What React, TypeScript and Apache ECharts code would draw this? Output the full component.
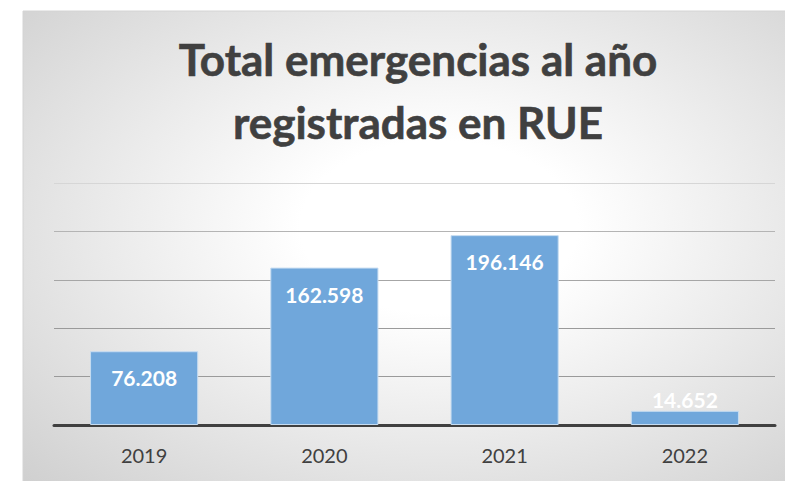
import React, { useEffect, useRef } from "react";
import * as echarts from "echarts";

const categories = ["2019", "2020", "2021", "2022"];
const values = [76208, 162598, 196146, 14652];
const labels = ["76.208", "162.598", "196.146", "14.652"];
const titleLines = ["Total emergencias al año", "registradas en RUE"];

export default function App() {
  const ref = useRef<HTMLDivElement>(null);
  useEffect(() => {
    if (!ref.current) return;
    const chart = echarts.init(ref.current, undefined, { renderer: "svg" });
    const font = "Lato, 'Open Sans', sans-serif";
    chart.setOption({
      animation: false,
      backgroundColor: "#ffffff",
      graphic: [
        {
          type: "rect",
          z: -10,
          silent: true,
          shape: { x: 23, y: 11, width: 770, height: 480 },
          style: {
            fill: new echarts.graphic.RadialGradient(0.54, 0.45, 1, [
              { offset: 0, color: "#ffffff" },
              { offset: 0.18, color: "#ffffff" },
              { offset: 0.45, color: "#e9e9e9" },
              { offset: 0.8, color: "#cccccc" },
              { offset: 1, color: "#bebebe" },
            ]),
            stroke: "#d4d4d4",
            lineWidth: 1,
          },
        },
      ],
      title: {
        text: titleLines.join("\n"),
        left: 413,
        top: 22,
        textAlign: "center",
        textStyle: {
          fontFamily: font,
          fontWeight: "bold",
          fontSize: 44,
          lineHeight: 63,
          color: "#404040",
          textBorderColor: "#404040",
          textBorderWidth: 0.6,
        },
      },
      grid: { left: 54, right: 10, top: 183, bottom: 56, containLabel: false },
      xAxis: {
        type: "category",
        data: categories,
        axisLine: { show: true, lineStyle: { color: "#404040", width: 3 } },
        axisTick: { show: false },
        axisLabel: {
          fontFamily: font,
          fontSize: 20,
          color: "#404040",
          margin: 20,
        },
      },
      yAxis: {
        type: "value",
        min: 0,
        max: 250000,
        interval: 50000,
        axisLabel: { show: false },
        axisLine: { show: false },
        axisTick: { show: false },
        splitLine: {
          show: true,
          lineStyle: {
            color: ["#9a9a9a", "#9a9a9a", "#9a9a9a", "#a6a6a6", "#b4b4b4", "#d6d6d6"],
            width: 1,
          },
        },
      },
      series: [
        {
          type: "bar",
          barWidth: "60%",
          data: values.map((v, i) => ({
            value: v,
            label:
              i === 3
                ? { position: "top", distance: 1 }
                : undefined,
          })),
          itemStyle: {
            color: "#70a7db",
            borderColor: "#c6dcf1",
            borderWidth: 1,
          },
          label: {
            show: true,
            position: "insideTop",
            distance: 16,
            formatter: (p: any) => labels[p.dataIndex],
            fontFamily: font,
            fontWeight: "bold",
            fontSize: 21,
            color: "#ffffff",
          },
        },
      ],
    });
    return () => chart.dispose();
  }, []);
  return (
    <div
      ref={ref}
      style={{ position: "fixed", left: 0, top: 0, width: 785, height: 481 }}
    />
  );
}
